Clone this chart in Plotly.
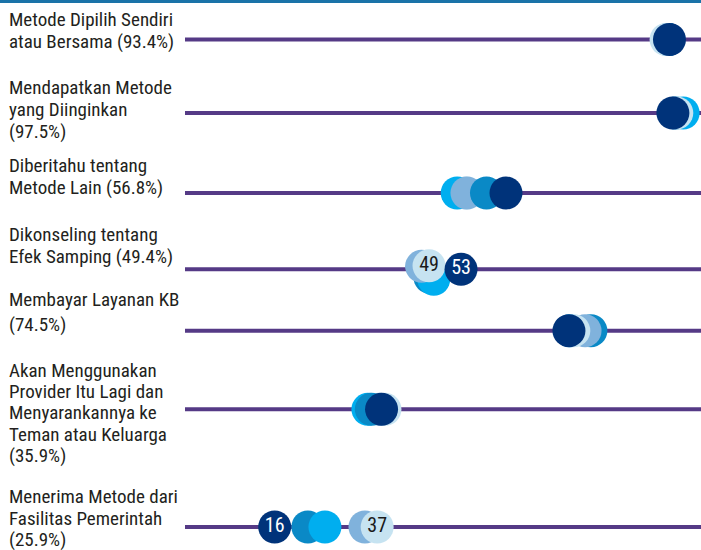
import plotly.graph_objects as go

# ---------------- data ----------------
categories = [
    "Metode Dipilih Sendiri<br>atau Bersama (93.4%)",
    "Mendapatkan Metode<br>yang Diinginkan<br>(97.5%)",
    "Diberitahu tentang<br>Metode Lain (56.8%)",
    "Dikonseling tentang<br>Efek Samping (49.4%)",
    "Membayar Layanan KB<br>(74.5%)",
    "Akan Menggunakan<br>Provider Itu Lagi dan<br>Menyarankannya ke<br>Teman atau Keluarga<br>(35.9%)",
    "Menerima Metode dari<br>Fasilitas Pemerintah<br>(25.9%)",
]
series_a = [96.2, 98.4, 55.2, 49.0, 77.3, 38.6, 37.0]   # very light blue
series_b = [96.5, 98.0, 55.4, 46.1, 79.6, 37.5, 34.5]   # light blue
series_c = [96.6, 99.7, 53.4, 48.6, 76.5, 35.1, 26.3]   # cyan
series_d = [96.7, 98.2, 59.4, 47.8, 80.8, 35.8, 22.8]   # medium blue
series_e = [96.9, 97.6, 63.4, 53.0, 76.3, 37.9, 16.0]   # navy
# points that carry a value label: (row, series)
labelled_points = [(3, "a"), (3, "e"), (6, "a"), (6, "e")]

# ---------------- style / layout ----------------
series = {"a": series_a, "b": series_b, "c": series_c, "d": series_d, "e": series_e}
colors = {"a": "#c6e3f1", "b": "#80b2dc", "c": "#00aeef", "d": "#0a89c6", "e": "#00337a"}
text_colors = {"a": "#1a1a1a", "b": "#1a1a1a", "c": "#1a1a1a", "d": "#ffffff", "e": "#ffffff"}
layer_order = [
    ["b", "c", "d", "a", "e"],
    ["c", "b", "d", "a", "e"],
    ["a", "c", "b", "d", "e"],
    ["d", "c", "b", "a", "e"],
    ["c", "d", "b", "a", "e"],
    ["b", "c", "d", "a", "e"],
    ["d", "c", "b", "a", "e"],
]
# dodge offsets to keep crowded dots legible (x in value units, y in px)
dodge_x = {(3, "a"): -1.37, (3, "e"): 1.19}
dodge_y = {(3, "a"): -3.5, (3, "b"): -3.0, (3, "c"): 10.0, (3, "d"): 8.0}

W, H = 701, 550
X0_PX, PX_PER_UNIT = 196.6, 4.88
x_range = [(0 - X0_PX) / PX_PER_UNIT, (W - X0_PX) / PX_PER_UNIT]
line_start = (185 - X0_PX) / PX_PER_UNIT

row_y = [39.5, 113, 193, 269.3, 330.7, 409.3, 527]
label_first_y = [19.6, 87, 165.5, 234.5, 299, 370, 496.7]
label_gap = [21.4, 22, 21.5, 22.2, 25, 21.4, 21.4]

FONT = "Roboto Condensed"
DOT = 33

fig = go.Figure()

shapes = [dict(type="rect", xref="paper", yref="paper", x0=0, x1=1, y0=1 - 3 / H, y1=1,
               fillcolor="#1a73a8", line=dict(width=0), layer="above")]
for i, y in enumerate(row_y):
    shapes.append(dict(type="line", xref="x", yref="y", x0=line_start, x1=x_range[1],
                       y0=y, y1=y, line=dict(color="#553a86", width=4), layer="below"))

for i, y in enumerate(row_y):
    xs, ys, cs, ts, tcs = [], [], [], [], []
    for k in layer_order[i]:
        v = series[k][i]
        xs.append(v + dodge_x.get((i, k), 0.0))
        ys.append(y + dodge_y.get((i, k), 0.0))
        cs.append(colors[k])
        ts.append(f"{v:.0f}" if (i, k) in labelled_points else "")
        tcs.append(text_colors[k])
    fig.add_trace(go.Scatter(
        x=xs, y=ys, mode="markers+text", text=ts,
        textposition="middle center",
        textfont=dict(family=FONT, size=20, color=tcs),
        marker=dict(size=DOT, color=cs, line=dict(width=0), opacity=1),
        cliponaxis=False, hoverinfo="skip", showlegend=False,
    ))

annotations = []
for i, cat in enumerate(categories):
    for j, line in enumerate(cat.split("<br>")):
        annotations.append(dict(
            xref="paper", yref="y", x=0, xshift=7, xanchor="left",
            y=label_first_y[i] + j * label_gap[i], yanchor="middle",
            text=line, showarrow=False,
            font=dict(family=FONT, size=19, color="#231f20"),
        ))

fig.update_layout(
    width=W, height=H,
    margin=dict(l=0, r=0, t=0, b=0),
    paper_bgcolor="white", plot_bgcolor="white",
    xaxis=dict(range=x_range, visible=False, fixedrange=True),
    yaxis=dict(range=[H, 0], visible=False, fixedrange=True),
    shapes=shapes, annotations=annotations,
    showlegend=False,
)

fig.write_html("out.html", config={"displayModeBar": False},
               post_script="document.body.style.margin='0';")
